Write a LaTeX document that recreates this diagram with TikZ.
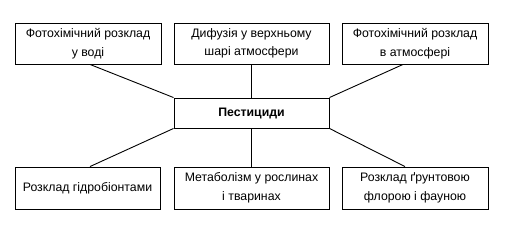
\documentclass[tikz,border=0pt]{standalone}
\usepackage{fontspec}
\setmainfont{Liberation Sans}
\begin{document}
\begin{tikzpicture}[x=1pt,y=1pt,
  box/.style={draw,line width=0.9pt,align=center,inner sep=2pt,font=\fontsize{12.3}{18.5}\selectfont},
  conn/.style={line width=0.9pt}]
\useasboundingbox (0,0) rectangle (506,226);
\node[box,minimum width=146pt,minimum height=41pt] (tl) at (88,182.5) {Фотохімічний розклад\\у воді};
\node[box,minimum width=155pt,minimum height=41pt] (tm) at (251.5,182.5) {Дифузія у верхньому\\шарі атмосфери};
\node[box,minimum width=146pt,minimum height=41pt] (tr) at (415,182.5) {Фотохімічний розклад\\в атмосфері};
\node[box,minimum width=155pt,minimum height=30pt,font=\fontsize{12.3}{18.5}\selectfont\bfseries] (c) at (251.5,113) {Пестициди};
\node[box,minimum width=145pt,minimum height=42pt] (bl) at (87.5,38) {Розклад гідробіонтами};
\node[box,minimum width=155pt,minimum height=42pt] (bm) at (251.5,38) {Метаболізм у рослинах\\і тваринах};
\node[box,minimum width=146pt,minimum height=42pt] (br) at (415,38) {Розклад ґрунтовою\\флорою і фауною};
\draw[conn] ([xshift=2pt]tl.south) -- (c.north west);
\draw[conn] (tm.south) -- (c.north);
\draw[conn] ([xshift=-12pt]tr.south) -- (c.north east);
\draw[conn] (c.south west) -- ([xshift=2.5pt]bl.north);
\draw[conn] (c.south) -- (bm.north);
\draw[conn] (c.south east) -- ([xshift=-10pt]br.north);
\end{tikzpicture}
\end{document}
